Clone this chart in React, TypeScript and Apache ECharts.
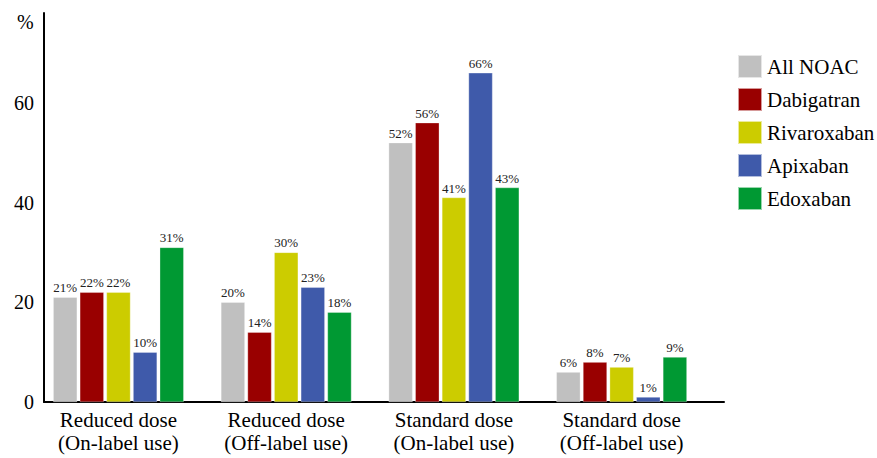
import React, { useEffect, useRef } from "react";
import * as echarts from "echarts";

const categories = [
  "Reduced dose\n(On-label use)",
  "Reduced dose\n(Off-label use)",
  "Standard dose\n(On-label use)",
  "Standard dose\n(Off-label use)",
];
const seriesNames = ["All NOAC", "Dabigatran", "Rivaroxaban", "Apixaban", "Edoxaban"];
const allNoac = [21, 20, 52, 6];
const dabigatran = [22, 14, 56, 8];
const rivaroxaban = [22, 30, 41, 7];
const apixaban = [10, 23, 66, 1];
const edoxaban = [31, 18, 43, 9];
const seriesColors = ["#C0C0C0", "#990000", "#CCCC00", "#3F5AAA", "#009933"];
const yTicks = [0, 20, 40, 60];

const FONT = "Liberation Serif";

export default function App() {
  const ref = useRef<HTMLDivElement>(null);

  useEffect(() => {
    if (!ref.current) return;
    const chart = echarts.init(ref.current, undefined, { renderer: "svg" });
    const values = [allNoac, dabigatran, rivaroxaban, apixaban, edoxaban];

    chart.setOption({
      animation: false,
      backgroundColor: "#ffffff",
      textStyle: { fontFamily: FONT },
      grid: [
        // bar area
        { left: 34.6, right: 171.5, top: 13, bottom: 56 },
        // frame for the axis lines and tick labels
        { left: 44, right: 153, top: 13, bottom: 56 },
      ],
      legend: {
        orient: "vertical",
        left: 737,
        top: 54,
        padding: 0,
        itemWidth: 24,
        itemHeight: 23,
        itemGap: 8,
        icon: "rect",
        data: seriesNames,
        textStyle: { fontFamily: FONT, fontSize: 21, lineHeight: 23, color: "#000" },
      },
      xAxis: [
        {
          type: "category",
          gridIndex: 0,
          data: categories,
          axisLine: { show: false },
          axisTick: { show: false },
          axisLabel: {
            fontFamily: FONT,
            fontSize: 21,
            lineHeight: 23,
            color: "#000",
            margin: 6,
          },
        },
        {
          type: "value",
          gridIndex: 1,
          min: 0,
          max: 1,
          axisLine: { show: true, lineStyle: { color: "#000", width: 2 } },
          axisTick: { show: false },
          axisLabel: { show: false },
          splitLine: { show: false },
        },
      ],
      yAxis: [
        {
          type: "value",
          gridIndex: 0,
          min: 0,
          max: 78,
          show: false,
          splitLine: { show: false },
        },
        {
          type: "value",
          gridIndex: 1,
          min: 0,
          max: 78,
          interval: 20,
          axisLine: { show: true, lineStyle: { color: "#000", width: 2 } },
          axisTick: { show: false },
          splitLine: { show: false },
          axisLabel: {
            fontFamily: FONT,
            fontSize: 20,
            color: "#000",
            margin: 10,
            showMaxLabel: false,
            formatter: (v: number) => (yTicks.includes(v) ? String(v) : ""),
          },
        },
      ],
      graphic: [
        {
          type: "text",
          left: 17,
          top: 12,
          style: { text: "%", fontFamily: FONT, fontSize: 20, fill: "#000" },
        },
      ],
      series: seriesNames.map((name, i) => ({
        name,
        type: "bar",
        xAxisIndex: 0,
        yAxisIndex: 0,
        data: values[i],
        barWidth: 24,
        barGap: "11%",
        itemStyle: { color: seriesColors[i], borderColor: "rgba(255,255,255,0.6)", borderWidth: 0.5 },
        label: {
          show: true,
          position: "top",
          distance: 3,
          formatter: "{c}%",
          fontFamily: FONT,
          fontSize: 13,
          color: "#222",
        },
      })),
    });

    return () => chart.dispose();
  }, []);

  return (
    <div
      ref={ref}
      style={{ position: "absolute", left: 0, top: 0, width: 877, height: 458 }}
    />
  );
}
